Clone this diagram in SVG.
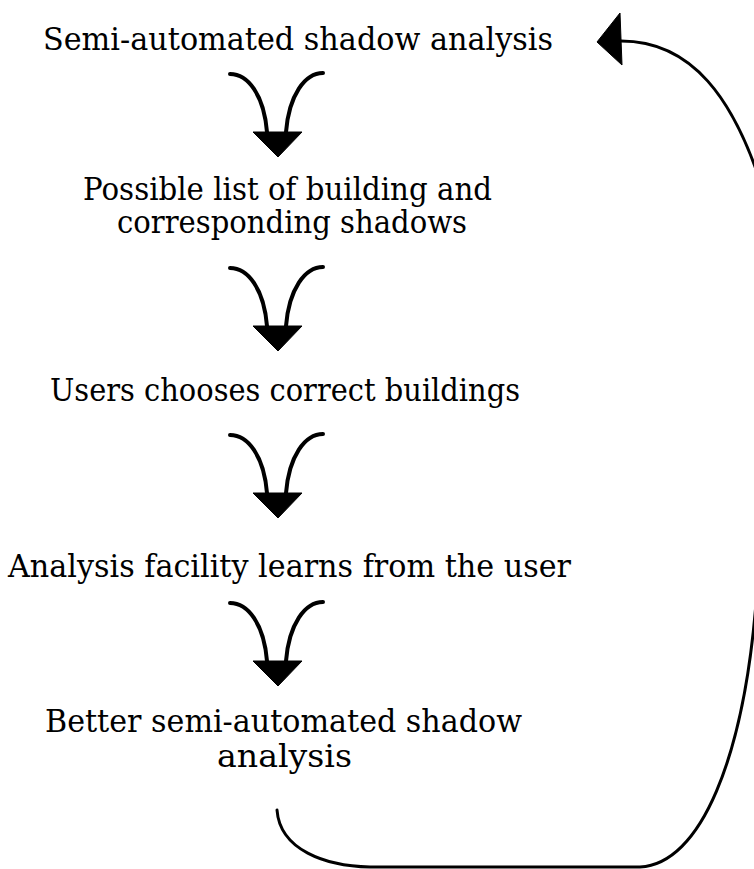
<svg xmlns="http://www.w3.org/2000/svg" xmlns:xlink="http://www.w3.org/1999/xlink" width="754" height="869" viewBox="0 0 754 869">
<style>
  .lbl { font-family: "DejaVu Serif", "Liberation Serif", serif; font-size: 31px; fill: #000; }
  .stem { fill: none; stroke: #000; stroke-width: 4; stroke-linecap: round; }
  .loop { fill: none; stroke: #000; stroke-width: 3; stroke-linecap: round; }
  .head { fill: #000; stroke: #000; stroke-width: 1; stroke-linejoin: round; }
</style>
<defs>
  <g id="down">
    <path class="stem" d="M230,74 C248,74 264,95 267,132"/>
    <path class="stem" d="M323,73 C305,73 289,95 286,132"/>
    <polygon class="head" points="253,132 302,132 278,157"/>
  </g>
</defs>
<rect width="754" height="869" fill="#fff"/>
<g id="n1">
  <text class="lbl" x="43" y="50" textLength="510" lengthAdjust="spacingAndGlyphs">Semi-automated shadow analysis</text>
</g>
<g id="n2">
  <text class="lbl" x="83" y="200" textLength="409" lengthAdjust="spacingAndGlyphs">Possible list of building and</text>
  <text class="lbl" x="117" y="233" textLength="350" lengthAdjust="spacingAndGlyphs">corresponding shadows</text>
</g>
<g id="n3">
  <text class="lbl" x="50" y="401" textLength="470" lengthAdjust="spacingAndGlyphs">Users chooses correct buildings</text>
</g>
<g id="n4">
  <text class="lbl" x="8" y="577" textLength="563" lengthAdjust="spacingAndGlyphs">Analysis facility learns from the user</text>
</g>
<g id="n5">
  <text class="lbl" x="45" y="732" textLength="477" lengthAdjust="spacingAndGlyphs">Better semi-automated shadow</text>
  <text class="lbl" x="217" y="767" textLength="135" lengthAdjust="spacingAndGlyphs">analysis</text>
</g>
<g id="connectors">
  <use xlink:href="#down" href="#down"/>
  <use xlink:href="#down" href="#down" y="194"/>
  <use xlink:href="#down" href="#down" y="361"/>
  <use xlink:href="#down" href="#down" y="529"/>
  <path class="loop" d="M277,810 C280,850 325,866 370,867 L640,867 C700,864 745,760 757,590 L768,420 L766,200 C735,95 690,41 621,41"/>
  <polygon class="head" points="597,42 620,13 622,65"/>
</g>
</svg>
